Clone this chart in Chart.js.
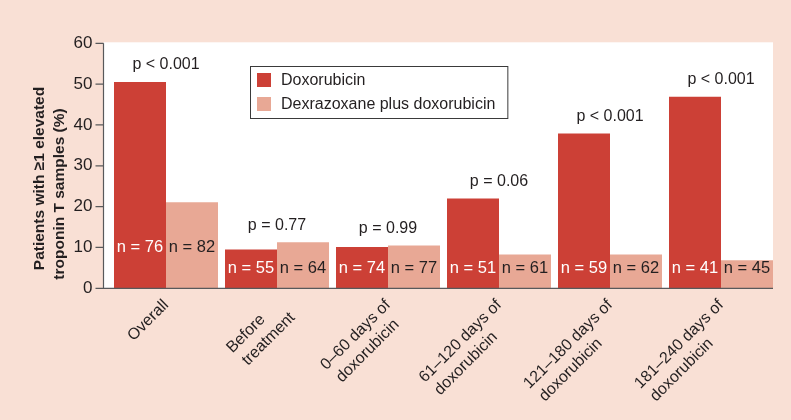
<!DOCTYPE html>
<html>
<head>
<meta charset="utf-8">
<script src="https://cdn.jsdelivr.net/npm/chart.js@4.4.1/dist/chart.umd.min.js"></script>
<style>
  html, body { margin: 0; padding: 0; background: #f9e0d5; }
  canvas { display: block; }
</style>
</head>
<body>
<canvas id="barChart" width="791" height="420"></canvas>
<script>
// chart data
const categories = [
    ['Overall'],
    ['Before', 'treatment'],
    ['0\u201360 days of', 'doxorubicin'],
    ['61\u2013120 days of', 'doxorubicin'],
    ['121\u2013180 days of', 'doxorubicin'],
    ['181\u2013240 days of', 'doxorubicin']
];
const seriesNames = ['Doxorubicin', 'Dexrazoxane plus doxorubicin'];
const doxorubicinValues = [50.5, 9.5, 10.1, 22.0, 37.9, 46.9];
const dexrazoxaneValues = [21.1, 11.3, 10.5, 8.3, 8.3, 6.9];
const doxorubicinN = [76, 55, 74, 51, 59, 41];
const dexrazoxaneN = [82, 64, 77, 61, 62, 45];
const pValues = ['p < 0.001', 'p = 0.77', 'p = 0.99', 'p = 0.06', 'p < 0.001', 'p < 0.001'];
const yMax = 60;
const yStep = 10;

const RED = '#cc4036';
const SALMON = '#e8a895';
const PEACH = '#f9e0d5';
const TEXT = '#231f20';
const AXIS = '#58595b';
const FONT = "'Liberation Sans', Arial, Helvetica, sans-serif";

const decorPlugin = {
    id: 'decor',
    beforeDraw(chart) {
        const { ctx, chartArea, scales } = chart;
        const y = scales.y;
        ctx.save();
        ctx.fillStyle = PEACH;
        ctx.fillRect(0, 0, chart.width, chart.height);
        const left = chartArea.left - 7;
        const right = chartArea.right - 3.5;
        const top = y.getPixelForValue(yMax) - 1;
        ctx.fillStyle = '#ffffff';
        ctx.fillRect(left, top, right - left, y.getPixelForValue(0) - top);
        ctx.restore();
    },
    afterDatasetsDraw(chart) {
        const { ctx, chartArea, scales } = chart;
        const x = scales.x, y = scales.y;
        const axisX = chartArea.left - 7;
        const bottom = y.getPixelForValue(0);
        ctx.save();

        // axes
        ctx.strokeStyle = AXIS;
        ctx.lineWidth = 1.2;
        ctx.beginPath();
        ctx.moveTo(axisX, y.getPixelForValue(yMax));
        ctx.lineTo(axisX, bottom);
        ctx.lineTo(chartArea.right - 3.5, bottom);
        for (let v = 0; v <= yMax; v += yStep) {
            const py = y.getPixelForValue(v);
            ctx.moveTo(axisX - 8, py);
            ctx.lineTo(axisX, py);
        }
        ctx.stroke();

        // n labels inside bars
        ctx.font = '16.5px ' + FONT;
        ctx.textAlign = 'center';
        ctx.textBaseline = 'middle';
        const redBars = chart.getDatasetMeta(0).data;
        const salmonBars = chart.getDatasetMeta(1).data;
        categories.forEach((c, i) => {
            const bothTall = Math.min(doxorubicinValues[i], dexrazoxaneValues[i]) > 15;
            const ny = bothTall ? y.getPixelForValue(10) : bottom - 19.5;
            ctx.fillStyle = '#ffffff';
            ctx.fillText('n = ' + doxorubicinN[i], redBars[i].x, ny);
            ctx.fillStyle = TEXT;
            ctx.fillText('n = ' + dexrazoxaneN[i], salmonBars[i].x, ny);
        });

        // p values
        ctx.font = '16px ' + FONT;
        ctx.fillStyle = TEXT;
        categories.forEach((c, i) => {
            const top = y.getPixelForValue(Math.max(doxorubicinValues[i], dexrazoxaneValues[i]));
            ctx.fillText(pValues[i], x.getPixelForValue(i), top - 17);
        });

        // category labels, rotated 45 degrees, lines left aligned
        ctx.textAlign = 'left';
        ctx.textBaseline = 'alphabetic';
        categories.forEach((lines, i) => {
            const w = Math.max(...lines.map(l => ctx.measureText(l).width));
            ctx.save();
            ctx.translate(x.getPixelForValue(i), bottom);
            ctx.rotate(-Math.PI / 4);
            lines.forEach((line, k) => {
                ctx.fillText(line, -10 - w + (k ? 2 : 0), 14.6 + k * 19.8);
            });
            ctx.restore();
        });

        // legend
        const lx = 250, ly = 66;
        const textW = Math.max(...seriesNames.map(s => ctx.measureText(s).width));
        const boxW = 31 + textW + 12;
        ctx.strokeStyle = '#3a3a3a';
        ctx.lineWidth = 1;
        ctx.strokeRect(lx + 0.5, ly + 0.5, boxW, 52);
        const colors = [RED, SALMON];
        ctx.textBaseline = 'middle';
        seriesNames.forEach((name, k) => {
            ctx.fillStyle = colors[k];
            ctx.fillRect(lx + 7, ly + 7 + k * 24, 14, 14);
            ctx.fillStyle = TEXT;
            ctx.fillText(name, lx + 31, ly + 14.5 + k * 24);
        });

        // y axis title
        ctx.font = 'bold 15.5px ' + FONT;
        ctx.textAlign = 'center';
        ctx.translate(40, 178.5);
        ctx.rotate(-Math.PI / 2);
        ctx.fillText('Patients with \u22651 elevated', 0, 0);
        ctx.fillText('troponin T samples (%)', -15.5, 20);
        ctx.restore();
    }
};

document.addEventListener('DOMContentLoaded', function() {
    const ctx = document.getElementById('barChart').getContext('2d');

    new Chart(ctx, {
        type: 'bar',
        data: {
            labels: categories,
            datasets: [{
                label: seriesNames[0],
                data: doxorubicinValues,
                backgroundColor: RED,
                borderWidth: 0
            }, {
                label: seriesNames[1],
                data: dexrazoxaneValues,
                backgroundColor: SALMON,
                borderWidth: 0
            }]
        },
        options: {
            responsive: false,
            animation: false,
            events: [],
            categoryPercentage: 104 / 111,
            barPercentage: 1.0,
            layout: {
                padding: { top: 43.3, right: 14.5, left: 0, bottom: 0 }
            },
            plugins: {
                legend: { display: false },
                tooltip: { enabled: false }
            },
            scales: {
                x: {
                    grid: { display: false, drawTicks: false },
                    border: { display: false },
                    // labels are drawn rotated by the decor plugin
                    ticks: { display: false },
                    afterFit(scale) { scale.height = 420 - 288.3; }
                },
                y: {
                    min: 0,
                    max: yMax,
                    grid: { display: false, drawTicks: false },
                    border: { display: false },
                    ticks: {
                        stepSize: yStep,
                        padding: 18,
                        color: TEXT,
                        font: { family: FONT, size: 17 }
                    },
                    afterFit(scale) { scale.width = 110.5; }
                }
            }
        },
        plugins: [decorPlugin]
    });
});
</script>
</body>
</html>
